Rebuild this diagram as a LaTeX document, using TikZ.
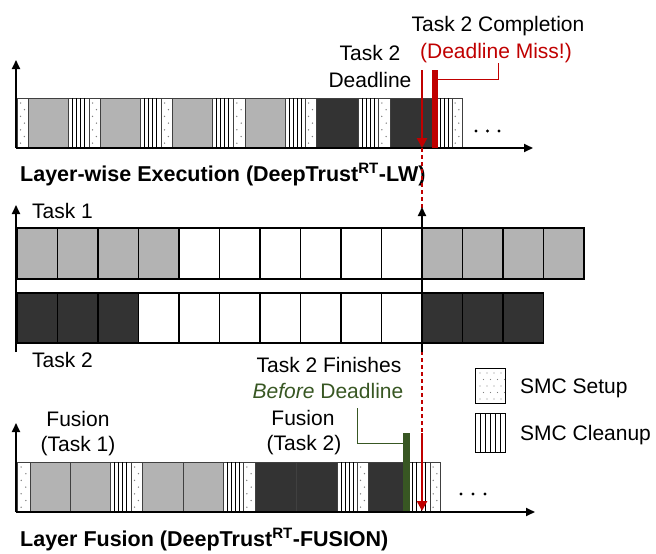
\documentclass[tikz,border=0pt]{standalone}
\usepackage{fontspec}
\setmainfont{Liberation Sans}
\usetikzlibrary{arrows.meta}
\definecolor{lgray}{HTML}{B3B3B3}
\definecolor{dgray}{HTML}{333333}
\definecolor{myred}{HTML}{C00000}
\definecolor{mygreen}{HTML}{385723}
\definecolor{edgec}{HTML}{404040}
\definecolor{dotc}{HTML}{808080}
\newcommand{\Lblk}[4]{\draw[edgec,fill=lgray,line width=0.9pt] (#1,#3) rectangle (#2,#4);}
\newcommand{\Dblk}[4]{\draw[edgec,fill=dgray,line width=0.9pt] (#1,#3) rectangle (#2,#4);}
\newcommand{\Ublk}[4]{\draw[edgec,fill=white,line width=0.9pt] (#1,#3) rectangle (#2,#4);
  \foreach \k in {0,...,6}{\fill[dotc] ({#1+(#2-#1)*(0.32+0.36*mod(\k,2))},{#3+5+\k*6.7}) circle (0.75pt);}}
\newcommand{\Sblk}[4]{\draw[edgec,fill=white,line width=0.9pt] (#1,#3) rectangle (#2,#4);
  \foreach \f in {0.2,0.4,0.6,0.8}{\draw[black,line width=0.7pt] ({#1+(#2-#1)*\f},#3) -- ({#1+(#2-#1)*\f},#4);}}
\tikzset{
  lbl/.style={font=\fontsize{21}{25}\selectfont, inner sep=0pt},
  ttl/.style={font=\fontsize{21.5}{25}\selectfont\bfseries, inner sep=0pt},
  axis/.style={black, line width=1.8pt, -{Triangle[length=9pt,width=8pt]}},
  redarrow/.style={myred, line width=2.6pt, -{Triangle[length=10pt,width=10pt]}},
  cell/.style={black, line width=1.1pt},
}
\begin{document}
\begin{tikzpicture}[x=1pt,y=-1pt]
\useasboundingbox (0,0) rectangle (656,554);
% ===== top timeline =====
\Ublk{17}{28}{98}{148}
\Lblk{28}{68}{98}{148}
\Sblk{68}{89}{98}{148}
\Ublk{89}{100}{98}{148}
\Lblk{100}{140}{98}{148}
\Sblk{140}{161}{98}{148}
\Ublk{161}{172}{98}{148}
\Lblk{172}{212}{98}{148}
\Sblk{212}{233}{98}{148}
\Ublk{233}{245}{98}{148}
\Lblk{245}{285}{98}{148}
\Sblk{285}{305}{98}{148}
\Ublk{305}{316}{98}{148}
\Dblk{316}{358}{98}{148}
\Sblk{358}{378}{98}{148}
\Ublk{378}{390}{98}{148}
\Dblk{390}{432}{98}{148}
\Sblk{432}{452}{98}{148}
\Ublk{452}{462}{98}{148}
\coordinate (o1) at (16,148);
\coordinate (y1) at (16,60);
\coordinate (x1) at (533,148);
\draw[axis] (o1) -- (y1);
\draw[axis] (o1) -- (x1);
\foreach \d in {476,487.5,499}{\fill (\d,131) circle (1.6pt);}
% deadline / completion markers top
\coordinate (dlt) at (422,70);
\coordinate (dlb) at (422,148);
\fill[myred] (432,70) rectangle (438,148);
\coordinate (cbar) at (438,79);
\node[lbl, anchor=base] (tc) at (498,31) {Task 2 Completion};
\node[lbl, anchor=base, text=myred] (dm) at (496,58) {(Deadline Miss!)};
\node[lbl, anchor=base] (t2a) at (370,60) {Task 2};
\node[lbl, anchor=base] (dla) at (370,87) {Deadline};
\coordinate (dmc) at (498,63);
\draw[myred, line width=1pt] (cbar) -| (dmc);
\draw[redarrow] (dlt) -- (dlb);
\node[ttl, anchor=base west] (title1) at (20,181) {Layer-wise Execution (DeepTrust\textsuperscript{RT}-LW)};
% ===== middle =====
\foreach \i in {0,...,13}{
  \pgfmathsetmacro{\xa}{17+\i*40.5}
  \pgfmathsetmacro{\xb}{17+(\i+1)*40.5}
  \ifnum\i<4 \def\fc{lgray}\else\ifnum\i>9 \def\fc{lgray}\else\def\fc{white}\fi\fi
  \draw[cell, fill=\fc] (\xa,228) rectangle (\xb,279);
}
\foreach \i in {0,...,12}{
  \pgfmathsetmacro{\xa}{17+\i*40.5}
  \pgfmathsetmacro{\xb}{17+(\i+1)*40.5}
  \ifnum\i<3 \def\fc{dgray}\else\ifnum\i>9 \def\fc{dgray}\else\def\fc{white}\fi\fi
  \draw[cell, fill=\fc] (\xa,293) rectangle (\xb,343);
}
\coordinate (dlm) at (422,433);
\draw[myred, line width=1.3pt, dash pattern=on 4pt off 3pt] (dlb) -- (dlm);
\coordinate (o2) at (16,352);
\coordinate (y2) at (16,205);
\coordinate (o3) at (422,352);
\coordinate (y3) at (422,207);
\draw[axis] (o2) -- (y2);
\draw[axis] (o3) -- (y3);
\node[lbl, anchor=base west] (task1) at (32,218) {Task 1};
\node[lbl, anchor=base west] (task2) at (32,367) {Task 2};
% ===== bottom timeline =====
\Ublk{17}{30}{462}{512}
\Lblk{30}{70}{462}{512}
\Lblk{70}{110}{462}{512}
\Sblk{110}{131}{462}{512}
\Ublk{131}{142}{462}{512}
\Lblk{142}{183}{462}{512}
\Lblk{183}{223}{462}{512}
\Sblk{223}{243}{462}{512}
\Ublk{243}{255}{462}{512}
\Dblk{255}{296}{462}{512}
\Dblk{296}{337}{462}{512}
\Sblk{337}{357}{462}{512}
\Ublk{357}{368}{462}{512}
\Dblk{368}{408}{462}{512}
\Sblk{408}{430}{462}{512}
\Ublk{430}{440}{462}{512}
\fill[mygreen] (403,433) rectangle (410,512);
\coordinate (gbar) at (403,443);
\coordinate (o4) at (16,512);
\coordinate (y4) at (16,423);
\coordinate (x4) at (535,512);
\draw[axis] (o4) -- (y4);
\draw[axis] (o4) -- (x4);
\foreach \d in {461,473,485}{\fill (\d,494) circle (1.6pt);}
\coordinate (dlb2) at (422,511);
\draw[redarrow] (dlm) -- (dlb2);
\node[lbl, anchor=base] (fin) at (329,372) {Task 2 Finishes};
\node[lbl, anchor=base, text=mygreen] (bef) at (328,398) {\textit{Before} Deadline};
\node[lbl, anchor=base] (f2) at (303,425) {Fusion};
\node[lbl, anchor=base] (f2t) at (304,450) {(Task 2)};
\node[lbl, anchor=base] (f1) at (78,426) {Fusion};
\node[lbl, anchor=base] (f1t) at (78,451) {(Task 1)};
\coordinate (gtop) at (357,408);
\draw[mygreen, line width=1pt] (gbar) -| (gtop);
\node[ttl, anchor=base west] (title2) at (20,546) {Layer Fusion (DeepTrust\textsuperscript{RT}-FUSION)};
% ===== legend =====
\draw[black, line width=1pt] (475,368) rectangle (505,403);
\foreach \r in {0,...,4}{\foreach \c in {0,...,3}{
  \fill[dotc] ({480+\c*7+mod(\r,2)*3.5},{373+\r*6.5}) circle (0.6pt);}}
\draw[black, line width=1pt] (475,413) rectangle (505,452);
\foreach \f in {1,...,5}{\draw[black, line width=0.6pt] ({475+\f*5},413) -- ({475+\f*5},452);}
\node[lbl, anchor=base west] (lg1) at (520,393) {SMC Setup};
\node[lbl, anchor=base west] (lg2) at (520,440) {SMC Cleanup};
\end{tikzpicture}
\end{document}
